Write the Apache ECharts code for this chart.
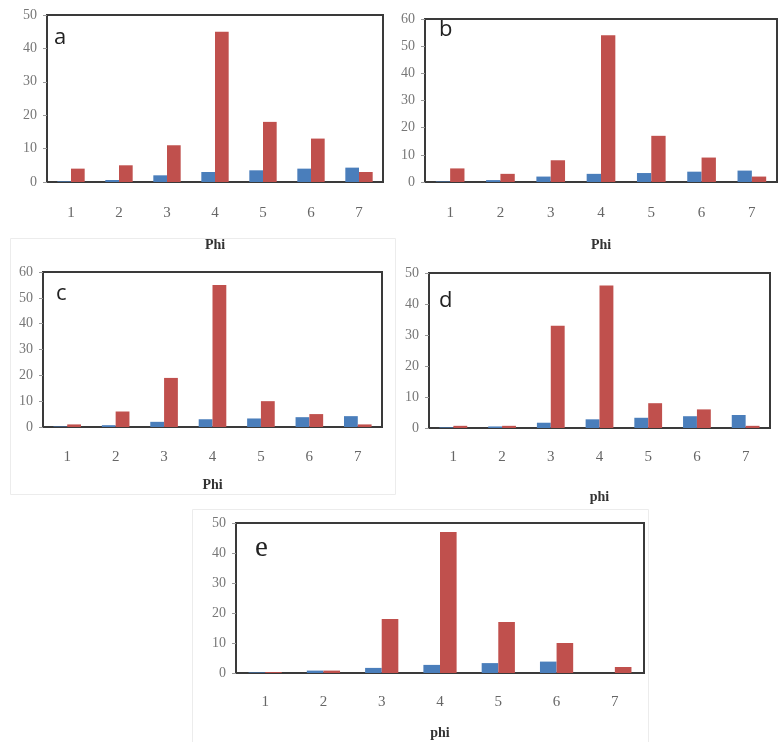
<!DOCTYPE html>
<html><head><meta charset="utf-8">
<script src="https://cdn.jsdelivr.net/npm/echarts@6/dist/echarts.min.js"></script>
<style>html,body{margin:0;padding:0;background:#fff}#c{width:780px;height:742px}</style>
</head><body><div id="c"></div>
<script>
var categories = ['1','2','3','4','5','6','7'];
var panelNames = ['a','b','c','d','e'];
var axisTitles = ['Phi','Phi','Phi','phi','phi'];
var yMax = [50, 60, 60, 50, 50];
var blueA = [0.2, 0.6, 2, 3, 3.5, 4, 4.3];
var redA  = [4, 5, 11, 45, 18, 13, 3];
var blueB = [0.2, 0.7, 2, 3, 3.3, 3.8, 4.2];
var redB  = [5, 3, 8, 54, 17, 9, 2];
var blueC = [0.2, 0.7, 2, 3, 3.3, 3.8, 4.2];
var redC  = [1, 6, 19, 55, 10, 5, 1];
var blueD = [0.2, 0.5, 1.7, 2.8, 3.3, 3.8, 4.2];
var redD  = [0.7, 0.7, 33, 46, 8, 6, 0.7];
var blueE = [0.2, 0.8, 1.7, 2.7, 3.3, 3.8, 0];
var redE  = [0.3, 0.8, 18, 47, 17, 10, 2];
var blueSets = [blueA, blueB, blueC, blueD, blueE];
var redSets = [redA, redB, redC, redD, redE];

var grids = [
  {left:47, top:15, width:336, height:167},
  {left:425, top:19, width:352, height:163},
  {left:43, top:272, width:339, height:155},
  {left:429, top:273, width:341, height:155},
  {left:236, top:523, width:408, height:150}
];
var labelMargin = [24, 24, 23, 22, 22];
var nameGaps = [56, 56, 51, 62, 53];
var letterPos = [[54,27],[439,19],[56,283],[439,290],[255,534]];

var serif = '"Liberation Serif", "DejaVu Serif", serif';
var option = {
  animation:false,
  backgroundColor:'#fff',
  grid:[], xAxis:[], yAxis:[], series:[],
  title:[],
  graphic:[
    {type:'rect', shape:{x:10.5,y:238.5,width:385,height:256}, style:{fill:'none',stroke:'#ececec',lineWidth:1}, silent:true, z:-10},
    {type:'rect', shape:{x:192.5,y:509.5,width:456,height:240}, style:{fill:'none',stroke:'#ececec',lineWidth:1}, silent:true, z:-10}
  ]
};
for (var i=0;i<5;i++){
  var g = grids[i];
  option.grid.push({left:g.left, top:g.top, width:g.width, height:g.height, show:true, borderColor:'#3a3a3a', borderWidth:2, backgroundColor:'#fff'});
  option.xAxis.push({
    type:'category', gridIndex:i, data:categories,
    name:axisTitles[i], nameLocation:'middle', nameGap:nameGaps[i],
    nameTextStyle:{fontFamily:serif, fontWeight:'bold', fontSize:14, color:'#333'},
    axisLine:{lineStyle:{color:'#3a3a3a', width:2}},
    axisTick:{show:false},
    axisLabel:{fontFamily:serif, fontSize:15, color:'#666', margin:labelMargin[i]}
  });
  option.yAxis.push({
    type:'value', gridIndex:i, min:0, max:yMax[i], interval:10,
    splitLine:{show:false},
    axisLine:{show:true, lineStyle:{color:'#3a3a3a', width:2}},
    axisTick:{show:true, length:4, lineStyle:{color:'#999'}},
    axisLabel:{fontFamily:serif, fontSize:14, color:'#777', margin:10}
  });
  option.series.push({type:'bar', xAxisIndex:i, yAxisIndex:i, data:blueSets[i], barGap:'0%', barCategoryGap:'43%', itemStyle:{color:'#4a7ebb'}});
  option.series.push({type:'bar', xAxisIndex:i, yAxisIndex:i, data:redSets[i], barGap:'0%', barCategoryGap:'43%', itemStyle:{color:'#c0504d'}});
  option.title.push({text:panelNames[i], left:letterPos[i][0], top:letterPos[i][1], padding:0,
    textStyle:{fontFamily: i===4 ? serif : '"Open Sans", "Liberation Sans", sans-serif', fontWeight:'normal', fontSize: i===4 ? 29 : 22, color:'#222'}});
}
var chart = echarts.init(document.getElementById('c'), null, {renderer:'canvas'});
chart.setOption(option);
</script>
</body></html>
